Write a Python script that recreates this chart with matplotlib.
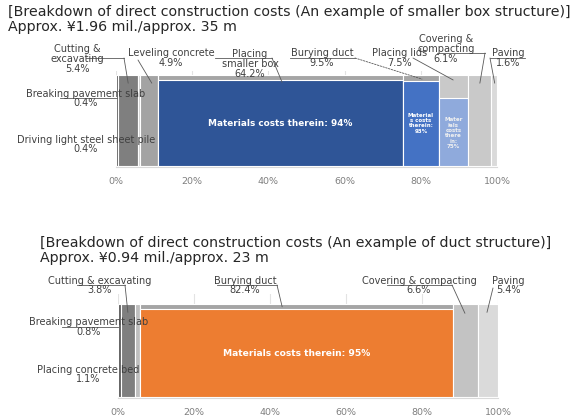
import matplotlib

matplotlib.use("Agg")
import matplotlib.pyplot as plt
from matplotlib.lines import Line2D

# figure size in pixels (dpi = 100)
W, H = 576, 418

# --- data: smaller box structure ---
top_items = [
    "Breaking pavement slab",
    "Cutting & excavating",
    "Driving light steel sheet pile",
    "Leveling concrete",
    "Placing smaller box",
    "Burying duct",
    "Placing lids",
    "Covering & compacting",
    "Paving",
]
top_shares = [0.4, 5.4, 0.4, 4.9, 64.2, 9.5, 7.5, 6.1, 1.6]
top_materials = [0, 0, 0, 0, 94, 93, 75, 0, 0]

# --- data: duct structure ---
bottom_items = [
    "Breaking pavement slab",
    "Cutting & excavating",
    "Placing concrete bed",
    "Burying duct",
    "Covering & compacting",
    "Paving",
]
bottom_shares = [0.8, 3.8, 1.1, 82.4, 6.6, 5.4]
bottom_materials = [0, 0, 0, 95, 0, 0]

tick_values = [0, 20, 40, 60, 80, 100]

# colours
top_gray = ["#5f5f5f", "#7f7f7f", "#cfcfcf", "#a3a3a3", "#a5a5a5",
            "#a5a5a5", "#c9c9c9", "#c9c9c9", "#dadada"]
top_mat_col = [None, None, None, None, "#2f5597", "#4472c4", "#8faadc", None, None]
bottom_gray = ["#5f5f5f", "#7f7f7f", "#bfbfbf", "#a5a5a5", "#c3c3c3", "#dadada"]
bottom_mat_col = [None, None, None, "#ed7d31", None, None]

TEXT = "#404040"
LEADER = "#595959"


def px(x, y):
    """reference pixel (top-left origin) -> figure pixels"""
    return x, H - y


def make_axes(fig, left, right, top, bottom, bar_top, bar_bottom):
    ax = fig.add_axes([left / W, (H - bottom) / H, (right - left) / W, (bottom - top) / H])
    scale = bar_bottom - bar_top
    ax.set_xlim(0, 100)
    ax.set_ylim(-(bottom - bar_bottom) / scale, 1 + (bar_top - top) / scale)
    ax.set_xticks(tick_values)
    ax.set_xticklabels([f"{v}%" for v in tick_values])
    ax.set_yticks([])
    ax.tick_params(axis="x", length=0, labelsize=6.8, labelcolor="#7f7f7f", pad=7)
    for s in ["top", "left", "right"]:
        ax.spines[s].set_visible(False)
    ax.spines["bottom"].set_color("#d9d9d9")
    ax.grid(axis="x", color="#e3e3e3", lw=0.8)
    ax.set_axisbelow(True)
    return ax


def draw_stack(ax, shares, materials, grays, mat_cols):
    left = 0
    mids = []
    for share, mat, g, mc in zip(shares, materials, grays, mat_cols):
        ax.barh(0, share, height=1, left=left, align="edge", color=g,
                edgecolor="white", linewidth=0.8)
        if mat:
            ax.barh(0, share, height=mat / 100, left=left, align="edge", color=mc,
                    edgecolor="white", linewidth=0.8)
        mids.append(left + share / 2)
        left += share
    return mids


def callout(fig, ax, text, center, underline=None, start=None, tip=None, dashed=False):
    fig.text(center[0] / W, 1 - center[1] / H, text, ha="center", va="center",
             fontsize=7, color=TEXT, linespacing=0.95)
    if underline:
        x0, x1, y = underline
        fig.add_artist(Line2D([x0 / W, x1 / W], [1 - y / H, 1 - y / H],
                              transform=fig.transFigure, color=LEADER, lw=0.6))
    if tip:
        ax.annotate("", xy=tip, xycoords="data", xytext=px(*start),
                    textcoords="figure pixels",
                    arrowprops=dict(arrowstyle="-", color=LEADER, lw=0.6,
                                    linestyle=(0, (2, 1.5)) if dashed else "-",
                                    shrinkA=0, shrinkB=0))


def main():
    fig = plt.figure(figsize=(W / 100, H / 100), dpi=100)

    # ---------- top chart ----------
    fig.text(8 / W, 1 - 12 / H,
             "[Breakdown of direct construction costs (An example of smaller box structure)]",
             fontsize=10.2, color="#262626", va="center")
    fig.text(8 / W, 1 - 27 / H, "Approx. ¥1.96 mil./approx. 35 m",
             fontsize=10.2, color="#262626", va="center")

    ax1 = make_axes(fig, 116, 497, 71, 167, 75, 166)
    mids = draw_stack(ax1, top_shares, top_materials, top_gray, top_mat_col)
    ax1.text(mids[4], 0.47, f"Materials costs therein: {top_materials[4]}%", ha="center",
             va="center", color="white", fontsize=6.4, fontweight="bold")
    ax1.text(mids[5], 0.47, f"Material\ns costs\ntherein:\n{top_materials[5]}%", ha="center",
             va="center", color="white", fontsize=4, fontweight="bold", linespacing=1.1)
    ax1.text(mids[6], 0.36, f"Mater\nials\ncosts\nthere\nin:\n{top_materials[6]}%",
             ha="center", va="center", color="#f0f0f0", fontsize=4, fontweight="bold",
             linespacing=1.1)

    callout(fig, ax1, f"Cutting &\nexcavating\n{top_shares[1]}%", (77, 59),
            (86, 124, 58), (124, 58), (3.2, 0.91))
    callout(fig, ax1, f"Leveling concrete\n{top_shares[3]}%", (171, 58),
            None, (138, 60), (9.4, 0.91))
    callout(fig, ax1, f"Placing\nsmaller box\n{top_shares[4]}%", (250, 64),
            (215, 272, 58), (272, 58), (43.6, 0.92))
    callout(fig, ax1, f"Burying duct\n{top_shares[5]}%", (322, 58),
            (290, 355, 58), (355, 58), (80.3, 0.955), dashed=True)
    callout(fig, ax1, f"Placing lids\n{top_shares[6]}%", (400, 58),
            None, (413, 58), (88.5, 0.945))
    callout(fig, ax1, f"Covering &\ncompacting\n{top_shares[7]}%", (446, 49),
            (437, 485, 53), (485, 53), (95.5, 0.91))
    callout(fig, ax1, f"Paving\n{top_shares[8]}%", (508, 58),
            (490, 525, 58), (490, 58), (99.4, 0.91))
    callout(fig, ax1, f"Breaking pavement slab\n{top_shares[0]}%", (86, 98.5),
            (60, 117, 98))
    callout(fig, ax1, f"Driving light steel sheet pile\n{top_shares[2]}%", (86, 144.5))

    # ---------- bottom chart ----------
    fig.text(40 / W, 1 - 243 / H,
             "[Breakdown of direct construction costs (An example of duct structure)]",
             fontsize=10.2, color="#262626", va="center")
    fig.text(40 / W, 1 - 258 / H, "Approx. ¥0.94 mil./approx. 23 m",
             fontsize=10.2, color="#262626", va="center")

    ax2 = make_axes(fig, 118, 498, 294, 398, 304, 397)
    mids2 = draw_stack(ax2, bottom_shares, bottom_materials, bottom_gray, bottom_mat_col)
    ax2.text(mids2[3], 0.47, f"Materials costs therein: {bottom_materials[3]}%", ha="center",
             va="center", color="white", fontsize=6.6, fontweight="bold")

    callout(fig, ax2, f"Cutting & excavating\n{bottom_shares[1]}%", (100, 285.5),
            (77, 125, 285), (125, 285), (2.6, 0.91))
    callout(fig, ax2, f"Burying duct\n{bottom_shares[3]}%", (245, 285.5),
            (217, 277, 285), (277, 285), (43.2, 0.97))
    callout(fig, ax2, f"Covering & compacting\n{bottom_shares[4]}%", (419, 285.5),
            (387, 452, 285), (452, 285), (91.3, 0.90))
    callout(fig, ax2, f"Paving\n{bottom_shares[5]}%", (508, 285.5),
            None, (493, 288), (97.1, 0.91))
    callout(fig, ax2, f"Breaking pavement slab\n{bottom_shares[0]}%", (89, 327),
            (62, 118, 327))
    callout(fig, ax2, f"Placing concrete bed\n{bottom_shares[2]}%", (88, 374.5))

    fig.savefig("out.png", dpi=100, facecolor="white")


if __name__ == "__main__":
    main()
